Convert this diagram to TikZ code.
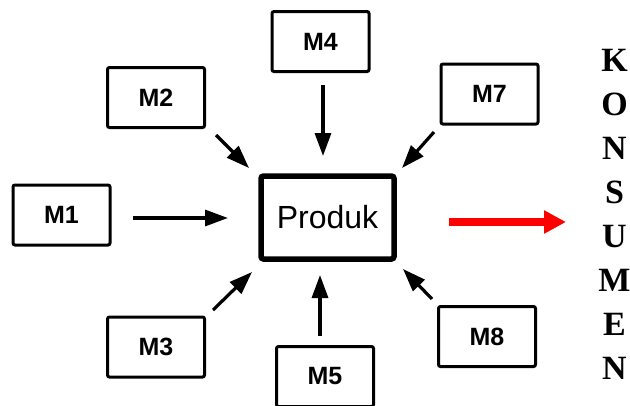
\documentclass[tikz,border=0pt]{standalone}
\usepackage{fontspec}
\setmainfont{Liberation Sans}
\newfontfamily\serifbold{Liberation Serif}
\usetikzlibrary{arrows.meta}
\begin{document}
\begin{tikzpicture}[x=1pt,y=-1pt,
  mbox/.style={draw=black, line width=3pt, rounded corners=2pt, fill=white,
    minimum width=97pt, minimum height=60pt, inner sep=0pt,
    font=\fontsize{25}{30}\selectfont\bfseries},
  prodbox/.style={draw=black, line width=5.5pt, rounded corners=2.5pt, fill=white,
    minimum width=133pt, minimum height=83pt, inner sep=0pt,
    font=\fontsize{32}{38}\selectfont},
  feed/.style={line width=3.2pt, -{Triangle[length=23pt,width=16pt]}},
  outflow/.style={draw=red, line width=8pt, -{Triangle[length=22pt,width=22pt]}}]
  \clip (0,0) rectangle (630,405);
  \fill[white] (0,0) rectangle (630,405);

  % central product and its inputs
  \node[prodbox] (prod) at (327.5,217.5) {Produk};
  \node[mbox] (m1) at (61.5,215) {M1};
  \node[mbox] (m2) at (156,97.5) {M2};
  \node[mbox] (m3) at (156,347) {M3};
  \node[mbox] (m4) at (320.5,41.5) {M4};
  \node[mbox] (m5) at (325,376.5) {M5};
  \node[mbox] (m7) at (489.5,94) {M7};
  \node[mbox] (m8) at (487,336.5) {M8};

  % vertical consumer label
  \node[inner sep=0pt, align=center, font=\fontsize{34}{44}\selectfont\serifbold\bfseries]
    (kons) at (614.5,214.5) {K\\O\\N\\S\\U\\M\\E\\N};

  % arrow end points
  \coordinate (m1a) at (133,218);  \coordinate (m1b) at (228,218);
  \coordinate (m2a) at (216,135);  \coordinate (m2b) at (249,168);
  \coordinate (m3a) at (213,310);  \coordinate (m3b) at (252,272);
  \coordinate (m4a) at (323,85);   \coordinate (m4b) at (323,156);
  \coordinate (m5a) at (320,336);  \coordinate (m5b) at (320,275);
  \coordinate (m7a) at (434,132);  \coordinate (m7b) at (402,168);
  \coordinate (m8a) at (432,299);  \coordinate (m8b) at (403,269);
  \coordinate (outa) at (449,222); \coordinate (outb) at (566,222);

  \draw[feed] (m1a) -- (m1b);
  \draw[feed] (m2a) -- (m2b);
  \draw[feed] (m3a) -- (m3b);
  \draw[feed] (m4a) -- (m4b);
  \draw[feed] (m5a) -- (m5b);
  \draw[feed] (m7a) -- (m7b);
  \draw[feed] (m8a) -- (m8b);
  \draw[outflow] (outa) -- (outb);
\end{tikzpicture}
\end{document}
